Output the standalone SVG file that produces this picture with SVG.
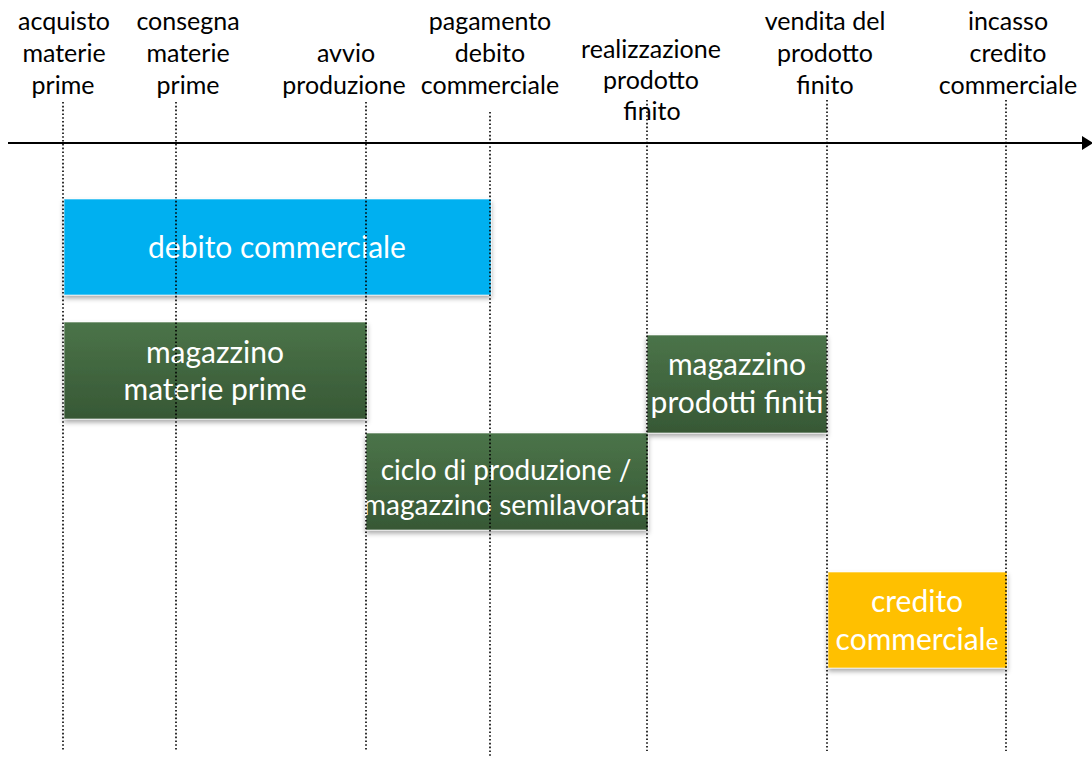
<svg xmlns="http://www.w3.org/2000/svg" width="1092" height="759" viewBox="0 0 1092 759">
<defs>
<linearGradient id="g" x1="0" y1="0" x2="0" y2="1">
<stop offset="0" stop-color="#4B7449"/>
<stop offset="1" stop-color="#375835"/>
</linearGradient>
<filter id="sh" x="-10%" y="-10%" width="120%" height="130%">
<feDropShadow dx="0" dy="3" stdDeviation="2.5" flood-color="#000" flood-opacity="0.35"/>
</filter>
<marker id="ah" markerWidth="12" markerHeight="14" refX="0" refY="7" orient="auto" markerUnits="userSpaceOnUse" viewBox="0 0 12 14">
<path d="M0,0 L11,7 L0,14 z" fill="#000"/>
</marker>
</defs>
<style>
.lbl{font-family:Lato,"Open Sans","Liberation Sans",sans-serif;font-size:25px;fill:#000;text-anchor:middle}
.bt{font-family:Lato,"Open Sans","Liberation Sans",sans-serif;font-size:30px;fill:#fff;text-anchor:middle}
.sm{font-size:28px}
.dot{stroke:#000;stroke-width:1.6;stroke-dasharray:1.6 2.2;fill:none}
.box{stroke:#fff;stroke-width:1;stroke-opacity:0.6;filter:url(#sh)}
</style>
<rect width="1092" height="759" fill="#fff"/>

<g id="labels">
<text class="lbl" x="64" y="30">acquisto</text>
<text class="lbl" x="64" y="62">materie</text>
<text class="lbl" x="63" y="94">prime</text>
<text class="lbl" x="188" y="30">consegna</text>
<text class="lbl" x="188" y="62">materie</text>
<text class="lbl" x="188" y="94">prime</text>
<text class="lbl" x="346" y="62">avvio</text>
<text class="lbl" x="344" y="94">produzione</text>
<text class="lbl" x="490" y="30">pagamento</text>
<text class="lbl" x="490" y="62">debito</text>
<text class="lbl" x="490" y="94">commerciale</text>
<text class="lbl" x="651" y="58">realizzazione</text>
<text class="lbl" x="651" y="89">prodotto</text>
<text class="lbl" x="652" y="120">finito</text>
<text class="lbl" x="825" y="30">vendita del</text>
<text class="lbl" x="825" y="62">prodotto</text>
<text class="lbl" x="825" y="94">finito</text>
<text class="lbl" x="1008" y="30">incasso</text>
<text class="lbl" x="1008" y="62">credito</text>
<text class="lbl" x="1008" y="94">commerciale</text>
</g>

<g id="axis">
<line x1="8" y1="143" x2="1082" y2="143" stroke="#000" stroke-width="2.2" marker-end="url(#ah)"/>
</g>

<g id="debito">
<rect class="box" x="64" y="199" width="427" height="96" fill="#00B0F0"/>
<text class="bt" x="277" y="258">debito commerciale</text>
</g>
<g id="magazzino-mp">
<rect class="box" x="64" y="322" width="303" height="97" fill="url(#g)"/>
<text class="bt" x="215" y="363">magazzino</text>
<text class="bt" x="215" y="400">materie prime</text>
</g>
<g id="ciclo">
<rect class="box" x="366" y="433" width="282" height="97" fill="url(#g)"/>
<text class="bt sm" x="506" y="480">ciclo di produzione /</text>
<text class="bt sm" x="505" y="515">magazzino semilavorati</text>
</g>
<g id="magazzino-pf">
<rect class="box" x="647" y="335" width="180" height="98" fill="url(#g)"/>
<text class="bt" x="737" y="375">magazzino</text>
<text class="bt" x="737" y="413">prodotti finiti</text>
</g>
<g id="credito">
<rect class="box" x="828" y="572" width="179" height="96" fill="#FFC000" stroke="#9FC5C5" stroke-opacity="1"/>
<text class="bt" x="917" y="612">credito</text>
<text class="bt" x="917" y="650">commercial<tspan font-size="24">e</tspan></text>
</g>

<g id="connectors">
<line class="dot" x1="63" y1="102" x2="63" y2="751"/>
<line class="dot" x1="176" y1="102" x2="176" y2="751"/>
<line class="dot" x1="366" y1="102" x2="366" y2="751"/>
<line class="dot" x1="490" y1="112" x2="490" y2="758"/>
<line class="dot" x1="647" y1="100" x2="647" y2="751"/>
<line class="dot" x1="827" y1="100" x2="827" y2="751"/>
<line class="dot" x1="1006" y1="100" x2="1006" y2="751"/>
</g>
</svg>
